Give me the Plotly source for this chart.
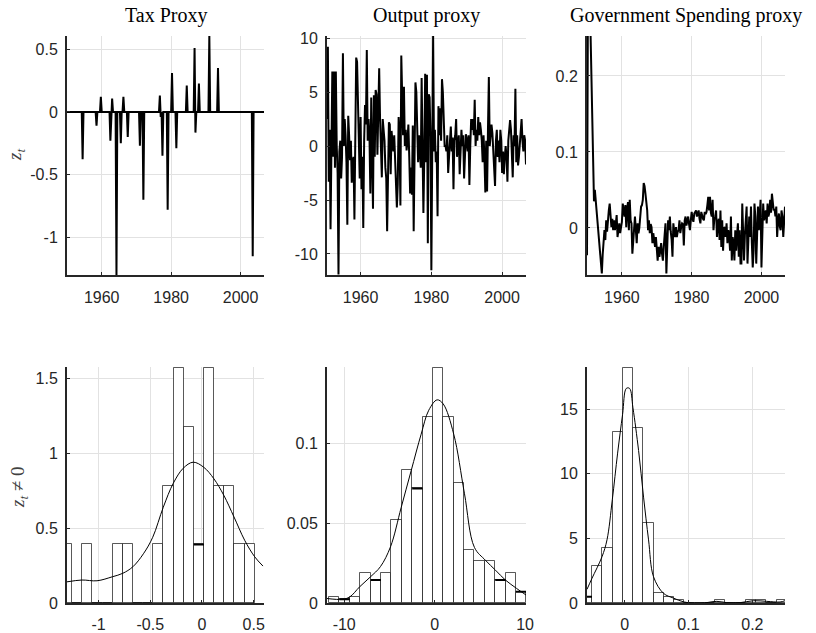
import plotly.graph_objects as go

# ---------------- quarterly series ----------------
TAX_START, TAX_END = 1950.0, 2006.75
# narrative tax shocks: (date, value); all other quarters are zero
tax_dates = [1954.5, 1958.5, 1959.75, 1962.5, 1963.0, 1964.25, 1965.5, 1966.25,
             1967.5, 1971.0, 1972.0, 1976.75, 1977.0, 1977.5, 1979.0, 1980.25,
             1981.5, 1984.5, 1986.75, 1987.0, 1988.0, 1991.0, 1993.5, 2003.5]
tax_values = [-0.378, -0.11, 0.12, -0.23, 0.106, -1.30, -0.25, 0.12,
              -0.20, -0.27, -0.70, 0.13, -0.04, -0.35, -0.78, 0.31,
              -0.29, 0.21, 0.51, -0.165, 0.226, 0.61, 0.35, -1.15]

OUTPUT_START = 1950.5
output_values = [
    2.5, 9.2,
    -3.3, 1.5, -7.7, 0.5,   6.9, -1.0, 6.9, -2.0,   6.9, 0.0, -2.5, -11.9,
    -0.5, 0.5, -3.0, -1.0,  8.6, 0.0, 2.5, 1.0,     -1.5, -7.3, 2.8, 1.0,
    -1.3, 0.5, -3.4, -1.5,  -1.0, -6.8, 1.0, 8.2,   7.8, 3.0, 0.0, -3.0,
    2.7, -4.0, -1.0, -7.6,  0.5, 3.8, 2.0, 8.9,     0.5, 2.5, 1.0, -4.4,
    4.5, -0.5, -5.8, 4.7,   -1.0, 5.2, 4.8, -0.8,   3.0, 7.2, 2.5, 0.5,
    -2.9, 2.5, 1.6, 0.5,    -2.0, -3.0, -7.9, -1.5, 2.2, 2.0, -2.6, 1.4,
    0.3, -0.5, 1.0, -1.5,   -3.0, -5.7, -3.5, 2.7,  1.0, -5.5, 8.4, 2.5,
    1.0, 5.5, 0.0, 1.5,     -0.4, 0.5, 2.0, -1.0,   -4.4, -2.0, -4.5, 1.9,
    -7.9, -1.0, 5.9, 5.0,   2.0, -1.5, 1.0, -0.5,   -2.0, 6.3, 1.0, -6.2,
    -1.0, 6.7, -1.5, 6.6,   -9.0, 4.8, 4.5, 1.0,    -11.5, 2.0, 10.2, -0.5,
    1.5, -1.5, -0.5, -6.5,  3.7, 1.0, 3.5, 0.5,     6.2, 5.0, 2.0, 0.0,
    0.0, -0.5, 1.0, -2.5,   -1.0, 0.5, 1.8, -0.5,   0.8, -4.0, 0.5, 1.0,
    2.5, -1.0, 0.5, 1.0,    -2.6, 0.5, 1.5, 0.0,    1.0, -3.0, 0.0, 1.1,
    0.5, -0.5, 1.0, -3.6,   0.0, 2.5, 1.5, 2.5,     1.0, 4.3, 0.0, 1.5,
    0.5, 2.7, 1.0, 2.2,     1.5, 0.5, -1.5, 1.0,    -1.0, -4.3, 0.5, -4.2,
    1.5, 6.4, 0.0, 1.0,     2.0, 1.2, -0.5, -2.8,   -3.7, 0.5, 1.5, -1.0,
    0.5, -1.5, 1.5, 0.5,    -2.5, -0.5, -2.6, -1.0, 0.0, -1.0, -3.3, 0.5,
    1.5, 2.4, 1.5, -0.5,    -2.9, 1.0, 0.0, 5.3,    -1.5, 1.0, -1.8, -1.0,
    0.5, 1.2, 2.5, 0.5,     -0.5, 1.0, 0.5, -1.7,
]

GOV_START = 1950.0
gov_values = [
    -0.036, 0.28, 0.26, 0.30,    0.26, 0.20, 0.13, 0.054,     0.035, 0.05, 0.035, 0.023,
    0.015, 0.0, -0.015, -0.03,   -0.047, -0.06, -0.035, -0.01, -0.003, -0.016, 0.01, -0.005,
    0.015, 0.023, 0.032, 0.008,  0.001, 0.012, -0.003, 0.01,  -0.003, 0.005, 0.017, -0.012,
    0.0, 0.006, -0.007, 0.002,   0.008, 0.032, 0.02, 0.015,   0.03, 0.001, 0.025, 0.034,
    -0.003, 0.037, 0.01, 0.006,  -0.034, -0.012, 0.005, 0.015, -0.003, -0.02, 0.006, -0.007,
    0.0, 0.023, 0.028, 0.03,     0.037, 0.059, 0.055, 0.045,  0.032, 0.023, -0.003, 0.01,
    -0.007, 0.005, 0.001, -0.02, -0.007, -0.015, -0.025, -0.012, -0.03, -0.043, -0.025, -0.038,
    -0.03, -0.02, -0.034, -0.043, -0.025, -0.012, 0.006, -0.06, -0.02, 0.01, -0.003, 0.015,
    -0.005, -0.015, -0.038, 0.006, -0.005, -0.012, 0.001, -0.012, -0.005, -0.003, 0.01, -0.007,
    0.001, 0.006, 0.005, -0.023, 0.01, 0.015, 0.003, 0.008,   0.015, 0.005, -0.003, 0.01,
    0.021, 0.012, 0.008, 0.019,  0.022, 0.023, 0.015, 0.02,   0.023, 0.012, 0.006, 0.021,
    0.015, 0.012, 0.01, 0.021,   0.018, 0.021, 0.03, 0.041,   0.023, 0.041, 0.02, 0.015,
    0.037, -0.003, 0.012, 0.015, 0.023, -0.012, 0.005, 0.012, -0.016, 0.023, -0.025, 0.01,
    -0.03, 0.0, 0.001, -0.012,   0.006, -0.02, -0.003, -0.01, -0.03, 0.015, -0.043, -0.012,
    -0.02, -0.043, -0.003, -0.03, -0.01, 0.006, -0.038, -0.003, -0.047, -0.047, 0.032, -0.02,
    -0.043, -0.01, 0.01, 0.028,  -0.047, -0.01, 0.015, -0.012, 0.028, -0.02, -0.052, -0.03,
    0.032, 0.015, -0.047, -0.01, 0.028, -0.003, 0.015, 0.037, -0.052, 0.01, 0.032, 0.01,
    0.02, 0.023, 0.006, 0.032,   0.015, 0.02, 0.037, 0.02,    0.045, 0.03, 0.023, 0.025,
    0.015, 0.028, -0.012, 0.01,  0.019, 0.002, -0.003, 0.023, 0.015, -0.012, 0.015, 0.028,
]

# ---------------- histograms of non-zero observations (pdf scale) ----------------
tax_hist_edge0, tax_hist_width = -1.354, 0.0981
tax_hist_density = [0.392, 0, 0.392, 0, 0, 0.392, 0.392, 0, 0, 0.392,
                    0.784, 1.568, 1.176, 0.392, 1.568, 0.784, 0.784, 0.392, 0.392]
tax_kde_x = [-1.305, -1.16, -1.015, -0.865, -0.765, -0.669, -0.566, -0.476, -0.374, -0.277,
             -0.181, -0.085, 0.018, 0.115, 0.211, 0.31, 0.413, 0.51, 0.59]
tax_kde_y = [0.143, 0.155, 0.15, 0.177, 0.2, 0.243, 0.33, 0.44, 0.64, 0.80,
             0.90, 0.94, 0.906, 0.83, 0.72, 0.575, 0.42, 0.31, 0.248]

out_hist_edge0, out_hist_width = -11.67, 1.148
out_hist_density = [0.0037, 0.0025, 0.0037, 0.0188, 0.0146, 0.0188, 0.0525, 0.0833, 0.072, 0.117,
                    0.1475, 0.117, 0.0754, 0.0337, 0.0264, 0.0264, 0.0146, 0.0188, 0.0073]
out_kde_x = [-11.9, -10.22, -9.38, -8.28, -7.09, -5.99, -4.88, -3.70, -2.60, -1.49, -0.65,
             0.27, 0.94, 2.11, 3.29, 4.40, 5.61, 6.72, 7.82, 9.04, 10.1]
out_kde_y = [0.003, 0.0025, 0.004, 0.0104, 0.0166, 0.023, 0.0354, 0.060, 0.083, 0.106, 0.121,
             0.1275, 0.125, 0.106, 0.069, 0.035, 0.027, 0.0208, 0.0146, 0.0094, 0.0052]

gov_hist_edge0, gov_hist_width = -0.0670, 0.01604
gov_hist_density = [0.51, 2.9, 4.28, 13.27, 18.18, 13.53, 6.21, 0.77, 0.51, 0.26,
                    0, 0, 0, 0.26, 0, 0, 0.26, 0.26, 0, 0.26]
gov_kde_x = [-0.0588, -0.051, -0.0353, -0.0275, -0.0192, -0.0109, -0.0031, 0.0027, 0.0078,
             0.0131, 0.0219, 0.0297, 0.0375, 0.0453, 0.0609, 0.0766, 0.0933, 0.1183, 0.1444,
             0.16, 0.1808, 0.2016, 0.2225, 0.2433, 0.251]
gov_kde_y = [1.08, 1.93, 3.6, 4.9, 8.0, 11.6, 14.6, 16.6, 16.6, 15.1, 11.8, 8.2, 4.9, 2.05,
             0.77, 0.4, 0.1, 0.0, 0.15, 0.05, 0.05, 0.2, 0.15, 0.1, 0.2]

# ---------------- titles and ticks ----------------
titles = ["Tax Proxy", "Output proxy", "Government Spending proxy"]
year_ticks = [1960, 1980, 2000]
tax_yticks, tax_yticklabels = [-1, -0.5, 0, 0.5], ["-1", "-0.5", "0", "0.5"]
out_yticks, out_yticklabels = [-10, -5, 0, 5, 10], ["-10", "-5", "0", "5", "10"]
gov_yticks, gov_yticklabels = [0, 0.1, 0.2], ["0", "0.1", "0.2"]
taxh_yticks, taxh_yticklabels = [0, 0.5, 1, 1.5], ["0", "0.5", "1", "1.5"]
outh_yticks, outh_yticklabels = [0, 0.05, 0.1], ["0", "0.05", "0.1"]
govh_yticks, govh_yticklabels = [0, 5, 10, 15], ["0", "5", "10", "15"]
outh_xticks, outh_xticklabels = [-10, 0, 10], ["-10", "0", "10"]
govh_xticks, govh_xticklabels = [0, 0.1, 0.2], ["0", "0.1", "0.2"]


def quarters(start, n):
    return [start + 0.25 * i for i in range(n)]


# tax proxy on the full quarterly grid
tax_t = quarters(TAX_START, int(round((TAX_END - TAX_START) * 4)) + 1)
tax_lookup = {int(round(d * 4)): v for d, v in zip(tax_dates, tax_values)}
tax_series = [tax_lookup.get(int(round(t * 4)), 0.0) for t in tax_t]

out_t = quarters(OUTPUT_START, len(output_values))
gov_t = quarters(GOV_START, len(gov_values))

W, H = 816, 633
col_px = [(67, 264), (327, 526), (587, 785)]
row_px = [(36, 275), (367, 603.3)]


def xdom(i):
    a, b = col_px[i]
    return [a / W, b / W]


def ydom(r):
    a, b = row_px[r]
    return [1 - b / H, 1 - a / H]


AX_COLOR = "#262626"
GRID = "#e2e2e2"
TICK_FONT = dict(family="Liberation Sans, Arial, sans-serif", size=16, color=AX_COLOR)


def axis(dom, rng, tickvals, ticktext, anchor, side, standoff=None):
    if standoff is None:
        standoff = 4 if side == "y" else 6
    return dict(domain=dom, range=rng, tickvals=tickvals, ticktext=ticktext,
                anchor=anchor, automargin=False, showline=True, linecolor=AX_COLOR,
                linewidth=2, mirror=False, showgrid=True, gridcolor=GRID, gridwidth=1,
                zeroline=False, ticks="inside", ticklen=3, tickcolor=AX_COLOR,
                tickwidth=1, tickfont=TICK_FONT, ticklabelstandoff=standoff,
                fixedrange=True)


def hist_top(dens):
    # tight limit at the tallest bin, with room for its top edge stroke
    return max(dens) * 1.004


fig = go.Figure()
LINE = dict(color="black", width=2)

fig.add_trace(go.Scatter(x=tax_t, y=tax_series, mode="lines", line=LINE,
                         xaxis="x", yaxis="y", showlegend=False))
fig.add_trace(go.Scatter(x=out_t, y=output_values, mode="lines", line=LINE,
                         xaxis="x2", yaxis="y2", showlegend=False))
fig.add_trace(go.Scatter(x=gov_t, y=gov_values, mode="lines", line=LINE,
                         xaxis="x3", yaxis="y3", showlegend=False))


def add_hist(edge0, width, dens, kx, ky, xa, ya):
    n = len(dens)
    centers = [edge0 + width * (k + 0.5) for k in range(n)]
    fig.add_trace(go.Bar(x=centers, y=dens, width=width,
                         marker=dict(color="white", line=dict(color="rgba(0,0,0,0.65)", width=1)),
                         xaxis=xa, yaxis=ya, showlegend=False))
    # bins lower than their neighbours get a dark top edge
    sx, sy = [], []
    for k in range(n):
        nb = [dens[j] for j in (k - 1, k + 1) if 0 <= j < n]
        if dens[k] > 0 and all(dens[k] < v for v in nb):
            sx += [edge0 + width * k, edge0 + width * (k + 1), None]
            sy += [dens[k], dens[k], None]
    if sx:
        fig.add_trace(go.Scatter(x=sx, y=sy, mode="lines", line=dict(color="black", width=2),
                                 xaxis=xa, yaxis=ya, showlegend=False))
    fig.add_trace(go.Scatter(x=kx, y=ky, mode="lines", line=dict(color="black", width=1, shape="spline"),
                             xaxis=xa, yaxis=ya, showlegend=False))


add_hist(tax_hist_edge0, tax_hist_width, tax_hist_density, tax_kde_x, tax_kde_y, "x4", "y4")
add_hist(out_hist_edge0, out_hist_width, out_hist_density, out_kde_x, out_kde_y, "x5", "y5")
add_hist(gov_hist_edge0, gov_hist_width, gov_hist_density, gov_kde_x, gov_kde_y, "x6", "y6")

year_text = [str(y) for y in year_ticks]
layout = dict(
    width=W, height=H, margin=dict(l=0, r=0, t=0, b=0, autoexpand=False),
    paper_bgcolor="white", plot_bgcolor="white", bargap=0, barmode="overlay",
    xaxis=axis(xdom(0), [1950, 2006.75], year_ticks, year_text, "y", "x", 7),
    yaxis=axis(ydom(0), [-1.30, 0.605], tax_yticks, tax_yticklabels, "x", "y"),
    xaxis2=axis(xdom(1), [1950.5, 2006.75], year_ticks, year_text, "y2", "x", 7),
    yaxis2=axis(ydom(0), [-11.95, 10.2], out_yticks, out_yticklabels, "x2", "y"),
    xaxis3=axis(xdom(2), [1950, 2006.75], year_ticks, year_text, "y3", "x", 7),
    yaxis3=axis(ydom(0), [-0.062, 0.2526], gov_yticks, gov_yticklabels, "x3", "y"),
    xaxis4=axis(xdom(0), [-1.305, 0.60], tax_yticks, tax_yticklabels, "y4", "x", 5),
    yaxis4=axis(ydom(1), [0, hist_top(tax_hist_density)], taxh_yticks, taxh_yticklabels, "x4", "y"),
    xaxis5=axis(xdom(1), [-11.9, 10.1], outh_xticks, outh_xticklabels, "y5", "x", 5),
    yaxis5=axis(ydom(1), [0, hist_top(out_hist_density)], outh_yticks, outh_yticklabels, "x5", "y"),
    xaxis6=axis(xdom(2), [-0.0588, 0.251], govh_xticks, govh_xticklabels, "y6", "x", 5),
    yaxis6=axis(ydom(1), [0, hist_top(gov_hist_density)], govh_yticks, govh_yticklabels, "x6", "y"),
)
fig.update_layout(**layout)

TITLE_FONT = dict(family="Liberation Serif, DejaVu Serif, serif", size=20, color="black")
for i, t in enumerate(titles):
    a, b = col_px[i]
    fig.add_annotation(text=t, x=(a + b) / 2 / W, y=1 - 15 / H, xref="paper", yref="paper",
                       showarrow=False, xanchor="center", yanchor="middle", font=TITLE_FONT)

LABEL_FONT = dict(family="Liberation Serif, DejaVu Serif, serif", size=19, color="#404040")
fig.add_annotation(text="<i>z</i><sub><i>t</i></sub>", x=16 / W, y=1 - 155 / H,
                   xref="paper", yref="paper", showarrow=False, textangle=-90,
                   xanchor="center", yanchor="middle", font=LABEL_FONT)
fig.add_annotation(text="<i>z</i><sub><i>t</i></sub> \u2260 0", x=19 / W, y=1 - 487 / H,
                   xref="paper", yref="paper", showarrow=False, textangle=-90,
                   xanchor="center", yanchor="middle", font=LABEL_FONT)

fig.write_html("out.html")
